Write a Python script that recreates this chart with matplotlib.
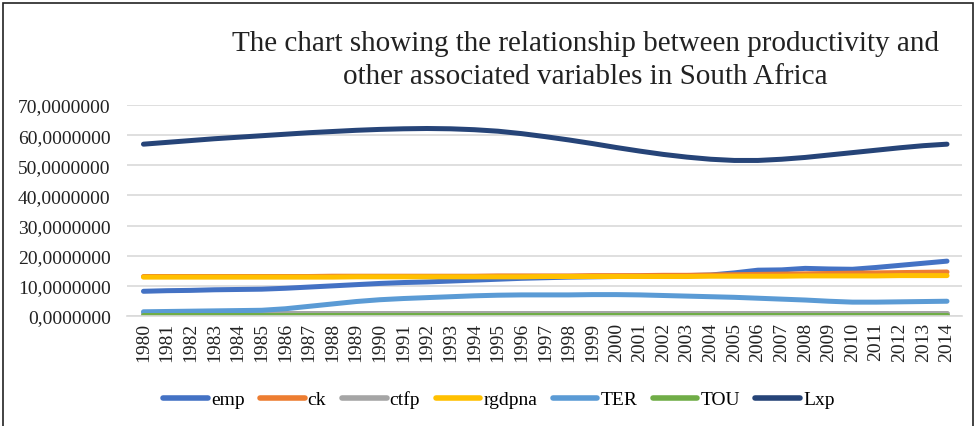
import matplotlib.pyplot as plt
from matplotlib.patches import Rectangle
from matplotlib.ticker import FuncFormatter

years = list(range(1980, 2015))

emp = [8.2, 8.4, 8.5, 8.7, 8.8, 8.9, 9.2, 9.6, 10.0, 10.4, 10.8, 11.1, 11.3, 11.6, 11.9, 12.2,
       12.5, 12.7, 12.9, 13.0, 13.1, 13.2, 13.3, 13.4, 13.6, 14.3, 15.2, 15.3, 15.8, 15.6,
       15.5, 16.1, 16.8, 17.5, 18.2]
ck = [13.1, 13.1, 13.1, 13.1, 13.1, 13.1, 13.1, 13.1, 13.2, 13.2, 13.2, 13.2, 13.2, 13.2, 13.2, 13.3,
      13.3, 13.3, 13.3, 13.4, 13.4, 13.4, 13.5, 13.5, 13.6, 13.7, 13.8, 13.9, 14.0, 14.1,
      14.2, 14.3, 14.4, 14.5, 14.6]
ctfp = [0.9] * 35
rgdpna = [12.9, 12.9, 12.9, 12.9, 12.9, 12.9, 12.9, 12.9, 12.9, 13.0, 13.0, 13.0, 13.0, 13.0, 13.0, 13.0,
          13.0, 13.1, 13.1, 13.1, 13.1, 13.1, 13.1, 13.1, 13.2, 13.2, 13.2, 13.2, 13.3, 13.3,
          13.3, 13.3, 13.4, 13.4, 13.4]
ter = [1.4, 1.5, 1.6, 1.7, 1.8, 1.9, 2.4, 3.2, 4.0, 4.8, 5.4, 5.8, 6.1, 6.4, 6.7, 6.9,
       7.0, 7.0, 7.0, 7.1, 7.1, 7.0, 6.8, 6.6, 6.4, 6.2, 5.9, 5.6, 5.3, 4.9,
       4.6, 4.6, 4.7, 4.8, 4.9]
tou = [0.3] * 35
lxp = [57.0, 57.6, 58.2, 58.8, 59.3, 59.8, 60.3, 60.8, 61.2, 61.6, 61.9, 62.1, 62.2, 62.1, 61.8, 61.3,
       60.5, 59.5, 58.4, 57.2, 55.9, 54.7, 53.6, 52.7, 52.0, 51.6, 51.6, 52.0, 52.6, 53.4,
       54.2, 55.0, 55.8, 56.5, 57.0]

names = ["emp", "ck", "ctfp", "rgdpna", "TER", "TOU", "Lxp"]
series = [emp, ck, ctfp, rgdpna, ter, tou, lxp]
colors = ["#4472C4", "#ED7D31", "#A5A5A5", "#FFC000", "#5B9BD5", "#70AD47", "#264478"]

plt.rcParams["font.family"] = ["Liberation Serif", "DejaVu Serif"]

fig = plt.figure(figsize=(9.8, 4.27), dpi=100)
ax = fig.add_axes([0.13, 0.2576, 0.852, 0.4942])

for name, vals, c in zip(names, series, colors):
    ax.plot(years, vals, color=c, lw=3.6, solid_capstyle="round", label=name)

ax.set_xlim(1979.32, 2014.65)
ax.set_ylim(0, 70)
ax.set_yticks(range(0, 71, 10))
ax.yaxis.set_major_formatter(FuncFormatter(lambda v, p: "%d,0000000" % v))
ax.set_xticks(years)
ax.set_xticklabels([str(y) for y in years], rotation=90)
ax.tick_params(axis="both", length=0, labelsize=14, colors="#222222")
ax.tick_params(axis="x", pad=4)
ax.tick_params(axis="y", pad=12)
ax.grid(axis="y", color="#D9D9D9", lw=1.2)
ax.set_axisbelow(True)
for s in ["top", "right", "left"]:
    ax.spines[s].set_visible(False)
ax.spines["bottom"].set_color("#D9D9D9")
ax.spines["bottom"].set_linewidth(1.2)

fig.text(0.597, 0.858, "The chart showing the relationship between productivity and\nother associated variables in South Africa",
         ha="center", va="center", fontsize=21, linespacing=1.38, color="#222222")

leg = fig.legend(loc="center", bbox_to_anchor=(0.509, 0.062), ncol=7, frameon=False,
                 fontsize=14, handlelength=2.3, handletextpad=0.15, columnspacing=0.8)
for h in leg.get_lines():
    h.set_linewidth(4)
    h.set_solid_capstyle("round")

fig.patches.append(Rectangle((0.003, -0.01), 0.99, 1.0, transform=fig.transFigure,
                             fill=False, edgecolor="#222222", lw=1.2))

fig.savefig("out.png", dpi=100)
